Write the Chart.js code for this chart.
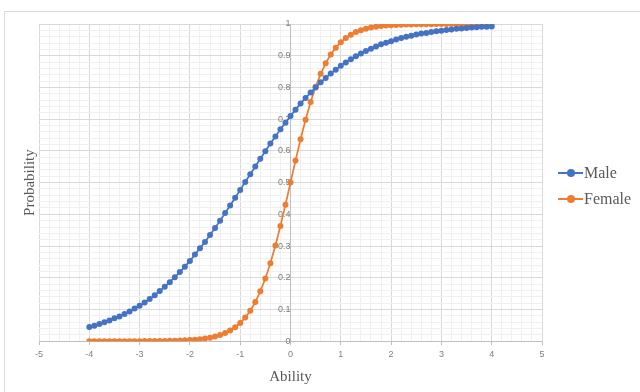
<!DOCTYPE html>
<html>
<head>
<meta charset="utf-8">
<script src="https://cdn.jsdelivr.net/npm/chart.js@4/dist/chart.umd.min.js"></script>
<style>
  html, body { margin: 0; padding: 0; background: #fff; }
  #wrap { position: relative; width: 640px; height: 392px; overflow: hidden; }
  #frame { position: absolute; left: 4px; top: 11px; width: 700px; height: 500px; border: 1px solid #d9d9d9; }
  #chart { position: absolute; left: 0; top: 0; }
  .leg { position: absolute; left: 558px; height: 20px; font: 16px "Liberation Serif", serif; color: #595959; }
  .leg .ln { position: absolute; left: 0; top: 9px; width: 25px; height: 2px; }
  .leg .dt { position: absolute; left: 9px; top: 6px; width: 8px; height: 8px; border-radius: 50%; }
  .leg .tx { position: absolute; left: 26px; top: 0; line-height: 20px; white-space: nowrap; }
</style>
</head>
<body>
<div id="wrap">
  <div id="frame"></div>
  <canvas id="chart" width="640" height="392"></canvas>
  <div id="legend"></div>
</div>
<script>
// ability values (x)
const abilities = [
  -4.0, -3.9, -3.8, -3.7, -3.6, -3.5, -3.4, -3.3, -3.2, -3.1,
  -3.0, -2.9, -2.8, -2.7, -2.6, -2.5, -2.4, -2.3, -2.2, -2.1,
  -2.0, -1.9, -1.8, -1.7, -1.6, -1.5, -1.4, -1.3, -1.2, -1.1,
  -1.0, -0.9, -0.8, -0.7, -0.6, -0.5, -0.4, -0.3, -0.2, -0.1,
  0.0,
  0.1, 0.2, 0.3, 0.4, 0.5, 0.6, 0.7, 0.8, 0.9, 1.0,
  1.1, 1.2, 1.3, 1.4, 1.5, 1.6, 1.7, 1.8, 1.9, 2.0,
  2.1, 2.2, 2.3, 2.4, 2.5, 2.6, 2.7, 2.8, 2.9, 3.0,
  3.1, 3.2, 3.3, 3.4, 3.5, 3.6, 3.7, 3.8, 3.9, 4.0
];

const maleProb = [
  0.045, 0.049, 0.054, 0.060, 0.065, 0.072, 0.078, 0.086, 0.094, 0.103,
  0.112, 0.122, 0.133, 0.145, 0.158, 0.172, 0.186, 0.202, 0.218, 0.235,
  0.253, 0.273, 0.293, 0.313, 0.335, 0.357, 0.380, 0.404, 0.428, 0.452,
  0.477, 0.502, 0.526, 0.551, 0.575, 0.599, 0.623, 0.645, 0.668, 0.689,
  0.710,
  0.730, 0.749, 0.767, 0.784, 0.800, 0.816, 0.830, 0.844, 0.856, 0.868,
  0.879, 0.889, 0.898, 0.907, 0.915, 0.922, 0.929, 0.936, 0.941, 0.946,
  0.951, 0.956, 0.960, 0.963, 0.967, 0.970, 0.972, 0.975, 0.977, 0.979,
  0.981, 0.983, 0.985, 0.986, 0.987, 0.989, 0.990, 0.991, 0.991, 0.992
];

const femaleProb = [
  0.0000, 0.0000, 0.0000, 0.0000, 0.0000, 0.0001, 0.0001, 0.0001, 0.0001, 0.0002,
  0.0002, 0.0003, 0.0004, 0.0005, 0.0007, 0.0009, 0.0012, 0.0016, 0.0021, 0.0028,
  0.0037, 0.0049, 0.0064, 0.0085, 0.0112, 0.0148, 0.0195, 0.0256, 0.0336, 0.0440,
  0.0573, 0.0745, 0.0962, 0.1235, 0.1571, 0.1978, 0.2460, 0.3015, 0.3635, 0.4305,
  0.5000,
  0.5695, 0.6365, 0.6985, 0.7540, 0.8022, 0.8429, 0.8765, 0.9038, 0.9255, 0.9427,
  0.9560, 0.9664, 0.9744, 0.9805, 0.9852, 0.9888, 0.9915, 0.9936, 0.9951, 0.9963,
  0.9972, 0.9979, 0.9984, 0.9988, 0.9991, 0.9993, 0.9995, 0.9996, 0.9997, 0.9998,
  0.9998, 0.9999, 0.9999, 0.9999, 0.9999, 1.0000, 1.0000, 1.0000, 1.0000, 1.0000
];

const seriesNames = ["Male", "Female"];
const seriesColors = ["#4472C4", "#ED7D31"];

const GRID_MAJOR = "#d9d9d9";
const GRID_MINOR = "#f0f0f0";
const TICK_FONT = { family: "'Liberation Sans', Arial, sans-serif", size: 9 };
const TITLE_FONT = { family: "'Liberation Serif', 'Times New Roman', serif", size: 15 };

const isMultiple = (v, step) => Math.abs(v / step - Math.round(v / step)) < 1e-6;

function toPoints(ys) {
  return abilities.map((x, i) => ({ x: x, y: ys[i] }));
}

const datasets = [maleProb, femaleProb].map((ys, i) => ({
  label: seriesNames[i],
  data: toPoints(ys),
  borderColor: seriesColors[i],
  backgroundColor: seriesColors[i],
  borderWidth: 1.75,
  pointRadius: 3,
  pointBorderWidth: 0,
  tension: 0
}));

new Chart(document.getElementById("chart"), {
  type: "line",
  data: { datasets: datasets },
  options: {
    responsive: false,
    animation: false,
    layout: { padding: { left: 21, top: 24, right: 98, bottom: 6 } },
    plugins: { legend: { display: false }, tooltip: { enabled: false } },
    scales: {
      x: {
        type: "linear",
        position: "bottom",
        min: -5,
        max: 5,
        grid: {
          color: ctx => isMultiple(ctx.tick.value, 1) ? GRID_MAJOR : GRID_MINOR,
          tickColor: ctx => isMultiple(ctx.tick.value, 1) ? "#bfbfbf" : "rgba(0,0,0,0)",
          tickLength: 4
        },
        border: { color: "#bfbfbf" },
        ticks: {
          stepSize: 0.2,
          maxTicksLimit: 1000,
          autoSkip: false,
          maxRotation: 0,
          padding: 4,
          color: "#7f7f7f",
          font: TICK_FONT,
          callback: v => isMultiple(v, 1) ? String(Math.round(v)) : ""
        },
        title: {
          display: true,
          text: "Ability",
          color: "#595959",
          font: TITLE_FONT,
          padding: { top: 4, bottom: 0 }
        }
      },
      y: {
        type: "linear",
        position: { x: 0 },
        min: 0,
        max: 1,
        grid: {
          color: ctx => isMultiple(ctx.tick.value, 0.1) ? GRID_MAJOR : GRID_MINOR,
          tickColor: ctx => isMultiple(ctx.tick.value, 0.1) ? "#bfbfbf" : "rgba(0,0,0,0)",
          tickLength: 4
        },
        border: { color: "#bfbfbf" },
        ticks: {
          stepSize: 0.02,
          maxTicksLimit: 1000,
          autoSkip: false,
          padding: 2,
          color: "#7f7f7f",
          font: TICK_FONT,
          callback: v => isMultiple(v, 0.1) ? String(Math.round(v * 10) / 10) : ""
        }
      },
      yTitle: {
        type: "linear",
        position: "left",
        grid: { display: false },
        border: { display: false },
        ticks: { display: false },
        afterFit: scale => { scale.width = 18; },
        title: {
          display: true,
          text: "Probability",
          color: "#595959",
          font: TITLE_FONT,
          padding: 0
        }
      }
    }
  }
});

// legend, Excel style: line with a marker in the middle
const legend = document.getElementById("legend");
seriesNames.forEach((name, i) => {
  const item = document.createElement("div");
  item.className = "leg";
  item.style.top = (163 + i * 26) + "px";
  item.innerHTML =
    '<span class="ln" style="background:' + seriesColors[i] + '"></span>' +
    '<span class="dt" style="background:' + seriesColors[i] + '"></span>' +
    '<span class="tx">' + name + '</span>';
  legend.appendChild(item);
});
</script>
</body>
</html>
